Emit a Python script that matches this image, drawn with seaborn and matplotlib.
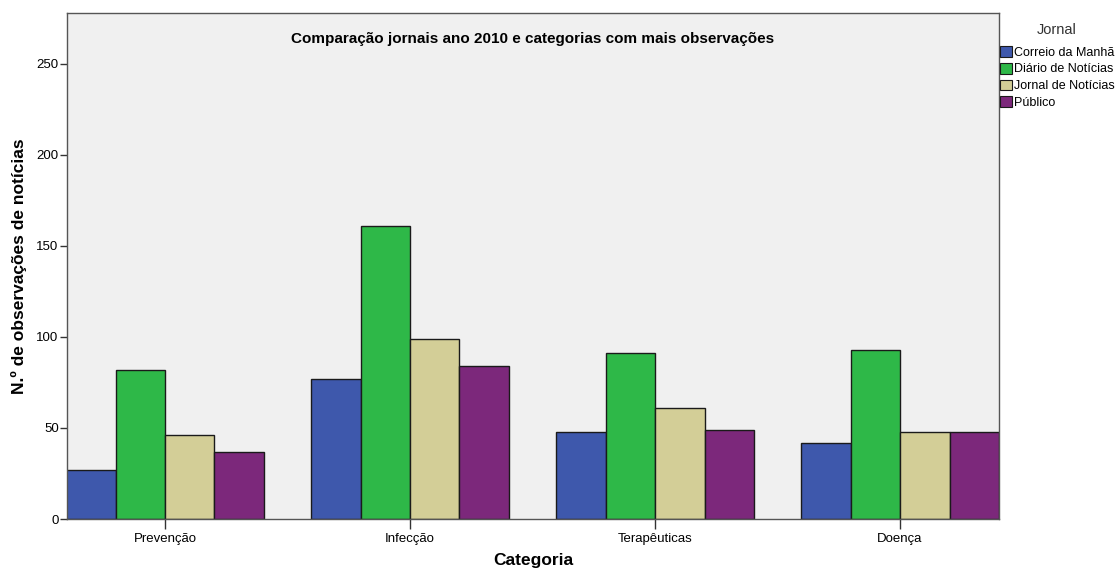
import matplotlib
matplotlib.use("Agg")
import matplotlib.pyplot as plt
import seaborn as sns
import pandas as pd
from matplotlib.patches import Patch

categorias = ["Prevenção", "Infecção", "Terapêuticas", "Doença"]
jornais = ["Correio da Manhã", "Diário de Notícias", "Jornal de Notícias", "Público"]
correio_manha = [27, 77, 48, 42]
diario_noticias = [82, 161, 91, 93]
jornal_noticias = [46, 99, 61, 48]
publico = [37, 84, 49, 48]
cores = ["#3e58ac", "#2eb848", "#d3ce97", "#7c287b"]

series = [correio_manha, diario_noticias, jornal_noticias, publico]
rows = []
for jornal, valores in zip(jornais, series):
    for cat, v in zip(categorias, valores):
        rows.append({"Categoria": cat, "Jornal": jornal, "Valor": v})
df = pd.DataFrame(rows)

sns.set_theme(style="ticks")
plt.rcParams["font.family"] = ["Liberation Sans", "DejaVu Sans"]
plt.rcParams["text.color"] = "black"
plt.rcParams["axes.labelcolor"] = "black"
plt.rcParams["xtick.labelcolor"] = "black"
plt.rcParams["ytick.labelcolor"] = "black"

fig = plt.figure(figsize=(11.16, 5.70), dpi=100)
ax = fig.add_axes([67 / 1116, 51 / 570, 932 / 1116, 506 / 570])
ax.set_facecolor("#f0f0f0")

sns.barplot(data=df, x="Categoria", y="Valor", hue="Jornal",
            order=categorias, hue_order=jornais, palette=cores,
            width=0.808, edgecolor="#1a1a1a", linewidth=1.0,
            saturation=1, legend=False, ax=ax)

ax.set_xlim(-0.4, 3.404)
ax.set_ylim(0, 278)
ax.set_yticks([0, 50, 100, 150, 200, 250])
ax.tick_params(axis="y", labelsize=9.5, length=5, width=1, color="#333333", pad=1)
ax.tick_params(axis="x", labelsize=9.5, length=7, width=1, color="#333333", pad=3)
for s in ax.spines.values():
    s.set_color("#555555")
    s.set_linewidth(1)

ax.set_xlabel("Categoria", fontsize=12.5, fontweight="bold", labelpad=6)
ax.set_ylabel("N.º de observações de notícias", fontsize=12.5, fontweight="bold", labelpad=7)
ax.set_title("Comparação jornais ano 2010 e categorias com mais observações",
             fontsize=11, fontweight="bold", y=0.925)

# legend title placed on its own, entries listed below it
fig.text(1057 / 1116, 1 - 30 / 570, "Jornal", ha="center", va="center",
         fontsize=10.5, color="#333333")
handles = [Patch(facecolor=c, edgecolor="#1a1a1a", linewidth=0.8) for c in cores]
leg = fig.legend(handles, jornais, loc="upper left",
                 bbox_to_anchor=(1000 / 1116, 1 - 46 / 570), frameon=False,
                 fontsize=9, handlelength=0.95,
                 handleheight=0.95, handletextpad=0.15, labelspacing=0.33,
                 borderaxespad=0, borderpad=0)

fig.savefig("out.png", dpi=100, facecolor="white")
